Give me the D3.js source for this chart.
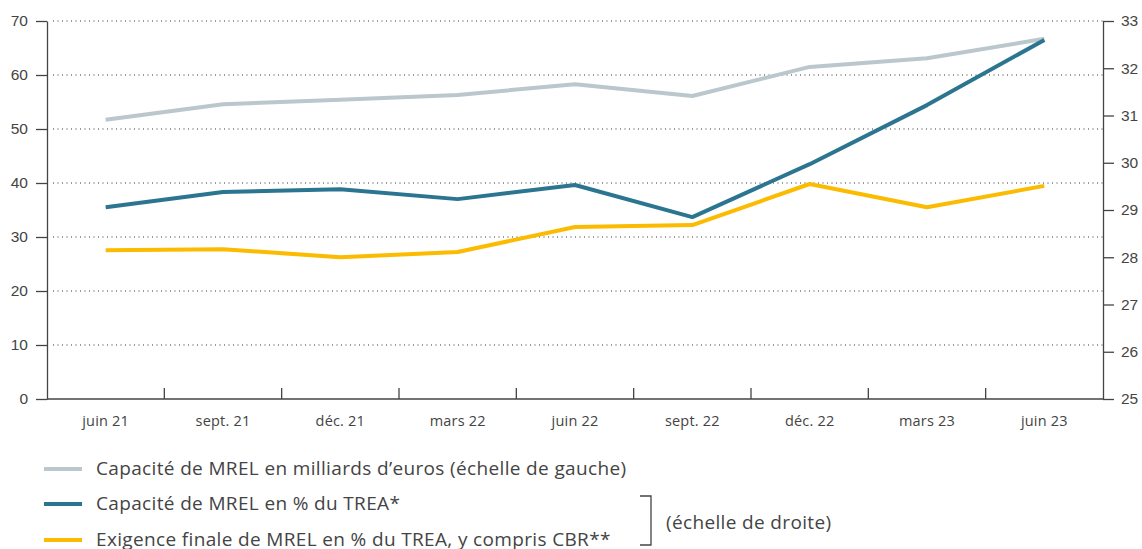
<!DOCTYPE html>
<html>
<head>
<meta charset="utf-8">
<script src="https://cdn.jsdelivr.net/npm/d3@7"></script>
<style>
  body { margin: 0; background: #fff; }
  svg { font-family: "Open Sans", "Noto Sans", sans-serif; }
  .grid line { stroke: #333; stroke-dasharray: 1 3.5; stroke-width: 1; }
  .axis text { fill: #444; font-size: 15.5px; }
  .axis path, .axis line { stroke: #444; stroke-width: 1.3; }
</style>
</head>
<body>
<svg id="chart"></svg>
<script>
// Chart data
const categories = ["juin 21", "sept. 21", "déc. 21", "mars 22", "juin 22", "sept. 22", "déc. 22", "mars 23", "juin 23"];
const mrelBillions = [51.7, 54.6, 55.4, 56.3, 58.3, 56.1, 61.5, 63.1, 66.7];
const mrelPctTrea = [29.06, 29.38, 29.44, 29.23, 29.53, 28.85, 29.97, 31.22, 32.6];
const requirementPct = [28.15, 28.17, 28.0, 28.11, 28.64, 28.68, 29.55, 29.06, 29.51];
const leftTicks = [0, 10, 20, 30, 40, 50, 60, 70];
const rightTicks = [25, 26, 27, 28, 29, 30, 31, 32, 33];

const width = 1142;
const height = 549;
const margin = { left: 47, right: 39, top: 21, bottom: 150 };

const svg = d3.select("#chart")
    .attr("width", width)
    .attr("height", height);

const x = d3.scaleBand()
    .domain(categories)
    .range([margin.left, width - margin.right]);

const yLeft = d3.scaleLinear()
    .domain([0, 70])
    .range([height - margin.bottom, margin.top]);

const yRight = d3.scaleLinear()
    .domain([25, 33])
    .range([height - margin.bottom, margin.top]);

// dotted grid lines
svg.append("g")
    .attr("class", "grid")
    .selectAll("line")
    .data(leftTicks.filter(d => d > 0))
    .enter()
    .append("line")
    .attr("x1", margin.left + 6)
    .attr("x2", width - margin.right)
    .attr("y1", d => yLeft(d))
    .attr("y2", d => yLeft(d));

// left axis
svg.append("g")
    .attr("class", "axis")
    .attr("transform", `translate(${margin.left},0)`)
    .call(d3.axisLeft(yLeft).tickValues(leftTicks).tickSize(11).tickPadding(8).tickSizeOuter(0));

// right axis
svg.append("g")
    .attr("class", "axis")
    .attr("transform", `translate(${width - margin.right},0)`)
    .call(d3.axisRight(yRight).tickValues(rightTicks).tickSize(11).tickPadding(7).tickSizeOuter(0));

// bottom axis: ticks at band boundaries, pointing up
const xAxisG = svg.append("g")
    .attr("class", "axis")
    .attr("transform", `translate(0,${height - margin.bottom})`);
xAxisG.append("line")
    .attr("x1", margin.left)
    .attr("x2", width - margin.right)
    .attr("stroke", "#444")
    .attr("stroke-width", 1.3);
xAxisG.selectAll(".bnd")
    .data(categories.slice(1))
    .enter()
    .append("line")
    .attr("class", "bnd")
    .attr("x1", d => x(d))
    .attr("x2", d => x(d))
    .attr("y1", 0)
    .attr("y2", -11)
    .attr("stroke", "#444")
    .attr("stroke-width", 1.3);
xAxisG.selectAll(".lbl")
    .data(categories)
    .enter()
    .append("text")
    .attr("class", "lbl")
    .attr("x", d => x(d) + x.bandwidth() / 2)
    .attr("y", 27)
    .attr("text-anchor", "middle")
    .style("font-size", "14.5px")
    .style("letter-spacing", "0.2px")
    .text(d => d);

// lines
const cx = (d, i) => x(categories[i]) + x.bandwidth() / 2;

const series = [
    { values: mrelBillions, scale: yLeft, color: "#bac7cc" },
    { values: requirementPct, scale: yRight, color: "#fbbb00" },
    { values: mrelPctTrea, scale: yRight, color: "#2c7590" }
];

series.forEach(s => {
    svg.append("path")
        .datum(s.values)
        .attr("fill", "none")
        .attr("stroke", s.color)
        .attr("stroke-width", 4)
        .attr("stroke-linejoin", "round")
        .attr("d", d3.line().x(cx).y(d => s.scale(d)));
});

// legend
const legendItems = [
    { label: "Capacité de MREL en milliards d\u2019euros (échelle de gauche)", color: "#bac7cc" },
    { label: "Capacité de MREL en % du TREA*", color: "#2c7590" },
    { label: "Exigence finale de MREL en % du TREA, y compris CBR**", color: "#fbbb00" }
];
const legendY = [469, 504, 540];

const legend = svg.append("g");
legendItems.forEach((item, i) => {
    legend.append("line")
        .attr("x1", 44)
        .attr("x2", 82)
        .attr("y1", legendY[i])
        .attr("y2", legendY[i])
        .attr("stroke", item.color)
        .attr("stroke-width", 4);
    legend.append("text")
        .attr("x", 96)
        .attr("y", legendY[i] + 6)
        .attr("fill", "#444")
        .style("font-size", "19px")
        .style("letter-spacing", "0.35px")
        .text(item.label);
});

// bracket for right scale
legend.append("path")
    .attr("d", "M640,496 H651 V545 H640")
    .attr("fill", "none")
    .attr("stroke", "#444")
    .attr("stroke-width", 1.3);
legend.append("text")
    .attr("x", 666)
    .attr("y", 529)
    .attr("fill", "#444")
    .style("font-size", "19px")
    .style("letter-spacing", "0.35px")
    .text("(échelle de droite)");
</script>
</body>
</html>
